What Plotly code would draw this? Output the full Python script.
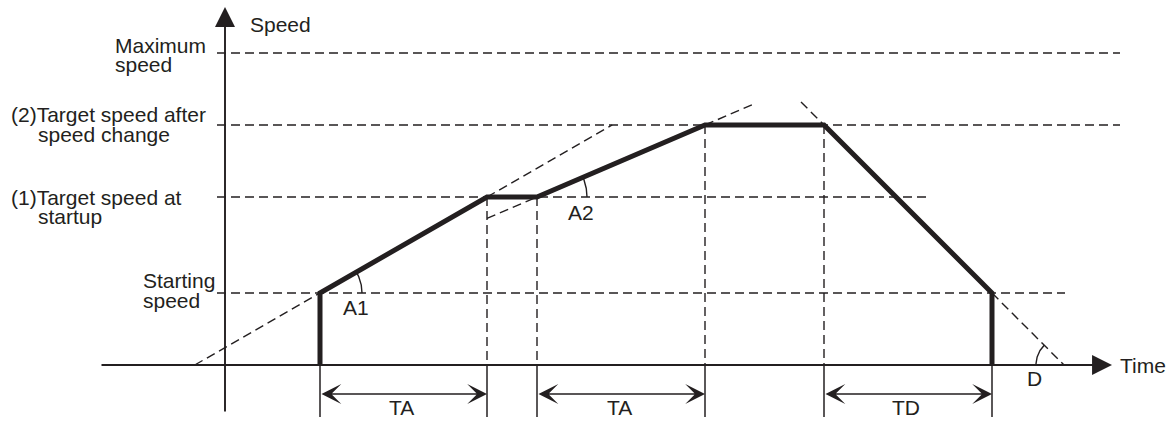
import numpy as np
import plotly.graph_objects as go

INK = "#231f20"
FONT = "Liberation Sans, Arial, sans-serif"
FS = 21

# ---- diagram values (drawing units: time to the right, speed upwards, origin at axis crossing)
# key instants: start, end of 1st accel, start of 2nd accel, end of 2nd accel, start of decel, end of decel
t_start, t_acc1_end, t_acc2_start, t_acc2_end, t_dec_start, t_dec_end = 95, 262, 312, 480, 599, 767
# speed levels: starting speed, (1) target at startup, (2) target after change, maximum speed
v_start, v_target1, v_target2, v_max = 72, 168, 240, 312

level_values = [v_start, v_target1, v_target2, v_max]
level_line_from = -8
level_line_to = [840, 705, 895, 895]

# two-line labels for each level: (first line, second line), their left x, and cap-centre speeds
level_text = [("Starting", "speed"),
              ("(1)Target speed at", "startup"),
              ("(2)Target speed after", "speed change"),
              ("Maximum", "speed")]
level_text_x = [(-84, -84), (-216, -189), (-216, -189), (-112, -112)]
level_text_y = [(84.5, 65), (167.5, 148.5), (251, 231), (320, 300.5)]

profile_t = [t_start, t_start, t_acc1_end, t_acc2_start, t_acc2_end, t_dec_start, t_dec_end, t_dec_end]
profile_v = [0, v_start, v_target1, v_target1, v_target2, v_target2, v_start, 0]

# extent of dashed slope extensions (times)
a2_back_t = t_acc1_end
a2_fwd_t = 528
d_back_t = 576

dim_pairs = [(t_start, t_acc1_end, "TA"), (t_acc2_start, t_acc2_end, "TA"), (t_dec_start, t_dec_end, "TD")]
dim_level = -29
dim_label_level = -42.5
ext_bottom = -52

axis_x_from, axis_x_tip = -125, 887
axis_y_from, axis_y_tip = -48, 358

fig = go.Figure()

def line(xs, ys, width=1.5, dash=None):
    fig.add_trace(go.Scatter(x=xs, y=ys, mode="lines", hoverinfo="skip",
                             line=dict(color=INK, width=width, dash=dash)))

DASH = "9px,5px"

# horizontal level lines
for v, end in zip(level_values, level_line_to):
    line([level_line_from, end], [v, v], 1.4, DASH)

# slopes
s1 = (v_target1 - v_start) / (t_acc1_end - t_start)
s2 = (v_target2 - v_target1) / (t_acc2_end - t_acc2_start)
sd = (v_target2 - v_start) / (t_dec_end - t_dec_start)

# A1 extensions
line([t_start - v_start / s1, t_start], [0, v_start], 1.4, DASH)
line([t_acc1_end, t_acc1_end + (v_target2 - v_target1) / s1], [v_target1, v_target2], 1.4, DASH)
# A2 extensions
line([a2_back_t, t_acc2_start], [v_target1 - s2 * (t_acc2_start - a2_back_t), v_target1], 1.4, DASH)
line([t_acc2_end, a2_fwd_t], [v_target2, v_target2 + s2 * (a2_fwd_t - t_acc2_end)], 1.4, DASH)
# decel extensions
line([d_back_t, t_dec_start], [v_target2 + sd * (t_dec_start - d_back_t), v_target2], 1.4, DASH)
line([t_dec_end, t_dec_end + v_start / sd], [v_start, 0], 1.4, DASH)

# vertical dashed guides
for t, v in [(t_acc1_end, v_target1), (t_acc2_start, v_target1), (t_acc2_end, v_target2), (t_dec_start, v_target2)]:
    line([t, t], [v, 0], 1.4, DASH)

# solid extension lines below the time axis
for t in [t_start, t_acc1_end, t_acc2_start, t_acc2_end, t_dec_start, t_dec_end]:
    line([t, t], [0, ext_bottom], 1.5)

# angle arcs
def arc(cx, cy, r, a0, a1):
    th = np.radians(np.linspace(a0, a1, 40))
    line(cx + r * np.cos(th), cy + r * np.sin(th), 1.4)

arc(t_start, v_start, 42, 0, np.degrees(np.arctan(s1)))
arc(t_acc2_start, v_target1, 50, 0, np.degrees(np.arctan(s2)))
arc(t_dec_end + v_start / sd, 0, 28, 180 - np.degrees(np.arctan(sd)), 180)

# speed profile (thick)
line(profile_t, profile_v, 5)

annotations = []
# axes with arrowheads
annotations.append(dict(x=axis_x_tip, y=0, ax=axis_x_from, ay=0, axref="x", ayref="y",
                        text="", showarrow=True, arrowhead=2, arrowsize=2.1, arrowwidth=1.9, arrowcolor=INK, standoff=0))
annotations.append(dict(x=0, y=axis_y_tip, ax=0, ay=axis_y_from, axref="x", ayref="y",
                        text="", showarrow=True, arrowhead=2, arrowsize=2.1, arrowwidth=1.9, arrowcolor=INK, standoff=0))
# dimension arrows
for a, b, lab in dim_pairs:
    annotations.append(dict(x=b, y=dim_level, ax=a, ay=dim_level, axref="x", ayref="y",
                            text="", showarrow=True, arrowhead=3, startarrowhead=3, arrowside="end+start",
                            arrowsize=2.2, arrowwidth=1.5, arrowcolor=INK, standoff=0, startstandoff=0))
    annotations.append(dict(x=(a + b) / 2 - 2, y=dim_label_level, text=lab, showarrow=False,
                            xanchor="center", yanchor="middle"))

def text(x, y, s, anchor="left"):
    annotations.append(dict(x=x, y=y, text=s, showarrow=False, xanchor=anchor, yanchor="middle"))

for (l1, l2), (x1, x2), (y1, y2) in zip(level_text, level_text_x, level_text_y):
    text(x1, y1, l1)
    text(x2, y2, l2)

text(23, 340.5, "Speed")
text(893, 0, "Time")
text(131, 57.5, "A1", "center")
text(356, 152.5, "A2", "center")
text(809, -13.5, "D", "center")

for an in annotations:
    an["xref"] = "x"
    an["yref"] = "y"
    an["font"] = dict(family=FONT, size=FS, color=INK)

fig.update_layout(
    width=1172, height=421, margin=dict(l=0, r=0, t=0, b=0),
    paper_bgcolor="white", plot_bgcolor="white", showlegend=False,
    xaxis=dict(range=[-225, 947], visible=False, fixedrange=True),
    yaxis=dict(range=[-56, 365], visible=False, fixedrange=True),
    annotations=annotations,
)

fig.write_html("out.html", config={"displayModeBar": False},
               post_script="document.body.style.margin='0';document.body.style.overflow='hidden';")
